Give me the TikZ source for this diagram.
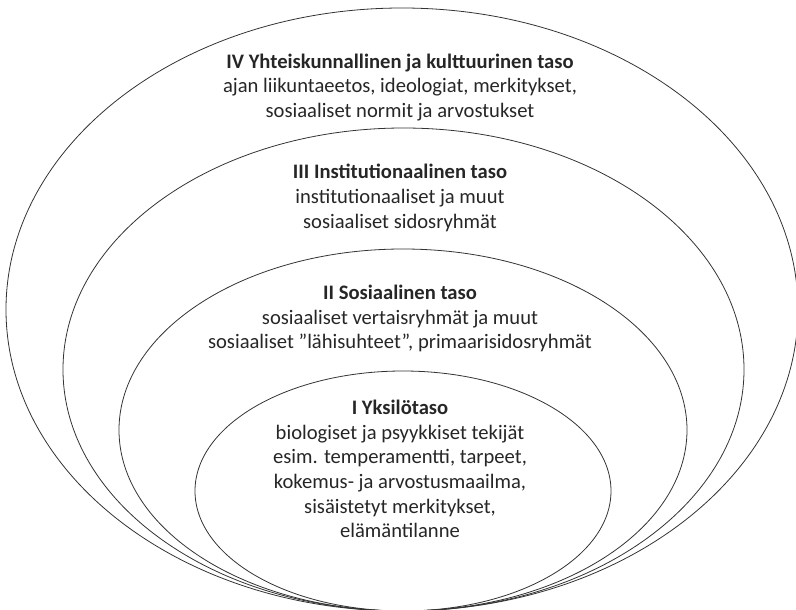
\documentclass[tikz,border=0pt]{standalone}
\usepackage{fontspec}
\setmainfont{Carlito}
\begin{document}
\begin{tikzpicture}[x=1pt,y=-1pt,
  ring/.style={draw=black!80,line width=0.8pt},
  lbl/.style={align=center,inner sep=0pt,text=black!85,font=\fontsize{20.6}{24.6}\selectfont}]
\useasboundingbox (0,0) rectangle (796,610);
\clip (0,0) rectangle (796,610);
\draw[ring] (402,309.5) ellipse [x radius=396, y radius=301.5];
\draw[ring] (403.5,369.5) ellipse [x radius=340.5, y radius=241.5];
\draw[ring] (403,430) ellipse [x radius=284, y radius=181];
\draw[ring] (403,491) ellipse [x radius=208, y radius=120];
\node[lbl] (iv) at (400,87.5) {\textbf{IV Yhteiskunnallinen ja kulttuurinen taso}\\ajan liikuntaeetos, ideologiat, merkitykset,\\sosiaaliset normit ja arvostukset};
\node[lbl] (iii) at (400,198) {\textbf{III Institutionaalinen taso}\\institutionaaliset ja muut\\sosiaaliset sidosryhmät};
\node[lbl] (ii) at (400,318.5) {\textbf{II Sosiaalinen taso}\\sosiaaliset vertaisryhmät ja muut\\sosiaaliset ”lähisuhteet”, primaarisidosryhmät};
\node[lbl] (i) at (400,469) {\textbf{I Yksilötaso}\\biologiset ja psyykkiset tekijät\\esim. temperamentti, tarpeet,\\kokemus- ja arvostusmaailma,\\sisäistetyt merkitykset,\\elämäntilanne};
\end{tikzpicture}
\end{document}
